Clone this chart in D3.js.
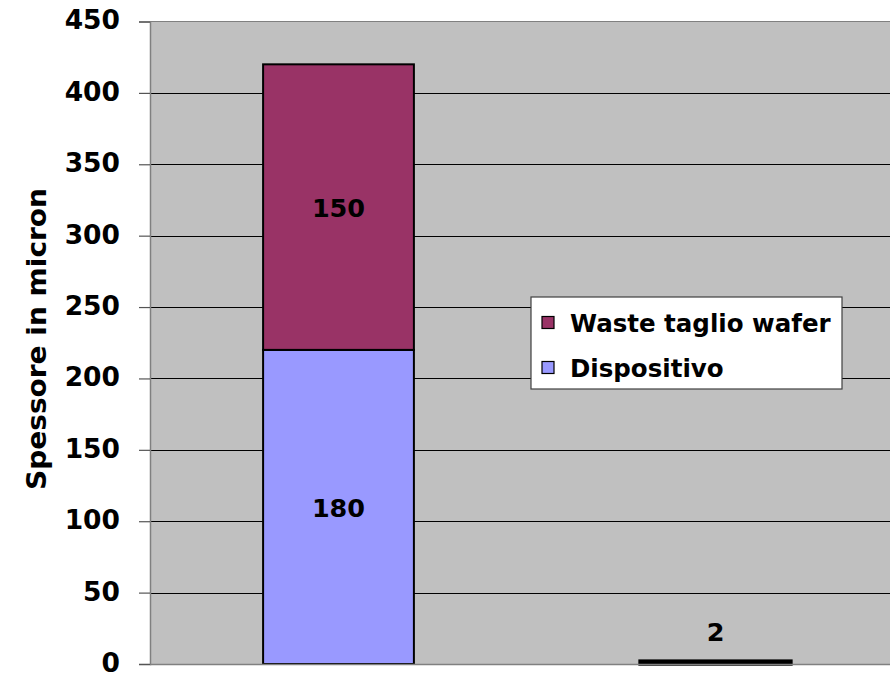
<!DOCTYPE html>
<html>
<head>
<meta charset="utf-8">
<script src="https://cdn.jsdelivr.net/npm/d3@7"></script>
<style>
  html, body { margin: 0; padding: 0; background: #ffffff; }
  svg { display: block; }
  text { font-family: "DejaVu Sans", Verdana, sans-serif; font-weight: bold; fill: #000; }
</style>
</head>
<body>
<svg id="chart" width="890" height="678"></svg>
<script>
// Categories along the x axis (unlabelled in the chart)
const categories = ["A", "B"];
// Stacked series, bottom to top
const seriesNames = ["Dispositivo", "Waste taglio wafer"];
const dispositivo = [220, 2];
const waste = [200, 0];
// Text annotations written on the segments
const segmentLabels = [["180", "2"], ["150", null]];
const yTicks = [0, 50, 100, 150, 200, 250, 300, 350, 400, 450];
const colors = ["#9999ff", "#993366"];

const svg = d3.select("#chart");
const plot = { left: 150, top: 21.5, right: 904, bottom: 664 };

const x = d3.scaleBand()
  .domain(categories)
  .range([plot.left, plot.right])
  .paddingInner(0.6)
  .paddingOuter(0.3);

const y = d3.scaleLinear()
  .domain([0, 450])
  .range([plot.bottom, plot.top]);

// plot background
svg.append("rect")
  .attr("x", plot.left).attr("y", plot.top)
  .attr("width", plot.right - plot.left).attr("height", plot.bottom - plot.top)
  .attr("fill", "#c0c0c0");

// gridlines
svg.append("g")
  .selectAll("line")
  .data(yTicks.filter(d => d > 0 && d < 450))
  .join("line")
  .attr("x1", plot.left).attr("x2", plot.right)
  .attr("y1", d => Math.round(y(d)) + 0.5).attr("y2", d => Math.round(y(d)) + 0.5)
  .attr("stroke", "#000").attr("stroke-width", 1);

// top border of the plot area
svg.append("line")
  .attr("x1", plot.left).attr("x2", plot.right)
  .attr("y1", plot.top).attr("y2", plot.top)
  .attr("stroke", "#808080").attr("stroke-width", 1);

// stacked bars
const rows = categories.map((c, i) => ({ cat: c, Dispositivo: dispositivo[i], "Waste taglio wafer": waste[i] }));
const stack = d3.stack().keys(seriesNames)(rows);

stack.forEach((layer, li) => {
  svg.append("g")
    .selectAll("rect")
    .data(layer.filter(d => d[1] - d[0] > 0))
    .join("rect")
    .attr("x", d => x(d.data.cat))
    .attr("y", d => y(d[1]))
    .attr("width", x.bandwidth())
    .attr("height", d => y(d[0]) - y(d[1]))
    .attr("fill", colors[li])
    .attr("stroke", "#000")
    .attr("stroke-width", d => (y(d[0]) - y(d[1]) < 6 ? 3.5 : 2));
});

// segment annotations
stack.forEach((layer, li) => {
  layer.forEach((d, ci) => {
    const label = segmentLabels[li][ci];
    if (!label) return;
    const h = d[1] - d[0];
    const yy = h > 20 ? (y(d[0]) + y(d[1])) / 2 + 10 : y(d[1]) - 20;
    svg.append("text")
      .attr("x", x(d.data.cat) + x.bandwidth() / 2)
      .attr("y", yy)
      .attr("text-anchor", "middle")
      .attr("font-size", 25.5)
      .text(label);
  });
});

// y axis
const yAxis = d3.axisLeft(y).tickValues(yTicks).tickSize(11).tickPadding(19);
const gy = svg.append("g")
  .attr("transform", `translate(${plot.left},0)`)
  .call(yAxis);
gy.select(".domain").attr("stroke", "#808080").attr("stroke-width", 1.5);
gy.selectAll(".tick line").attr("stroke", "#555").attr("stroke-width", 1.2);
gy.selectAll(".tick text")
  .attr("font-size", 26.5)
  .attr("font-family", "DejaVu Sans, Verdana, sans-serif")
  .attr("font-weight", "bold")
  .attr("fill", "#000")
  .attr("dy", "0.28em");

// x axis baseline
svg.append("line")
  .attr("x1", plot.left).attr("x2", plot.right)
  .attr("y1", plot.bottom + 0.5).attr("y2", plot.bottom + 0.5)
  .attr("stroke", "#808080").attr("stroke-width", 1.5);

// y axis title
svg.append("text")
  .attr("transform", `translate(46,339) rotate(-90)`)
  .attr("text-anchor", "middle")
  .attr("font-family", "'Open Sans', 'DejaVu Sans', sans-serif")
  .attr("font-size", 26)
  .attr("textLength", 302)
  .attr("lengthAdjust", "spacingAndGlyphs")
  .text("Spessore in micron");

// legend
const legend = svg.append("g").attr("transform", "translate(531,297)");
legend.append("rect")
  .attr("width", 311).attr("height", 92)
  .attr("fill", "#ffffff").attr("stroke", "#404040").attr("stroke-width", 1.2);
const legendItems = [
  { name: seriesNames[1], color: colors[1] },
  { name: seriesNames[0], color: colors[0] }
];
legendItems.forEach((it, i) => {
  const gy0 = 26 + i * 45;
  legend.append("rect")
    .attr("x", 11).attr("y", gy0 - 6.5)
    .attr("width", 12).attr("height", 12)
    .attr("fill", it.color).attr("stroke", "#000").attr("stroke-width", 1.2);
  legend.append("text")
    .attr("x", 39).attr("y", gy0 + 9)
    .attr("font-size", 24.5)
    .text(it.name);
});
</script>
</body>
</html>
